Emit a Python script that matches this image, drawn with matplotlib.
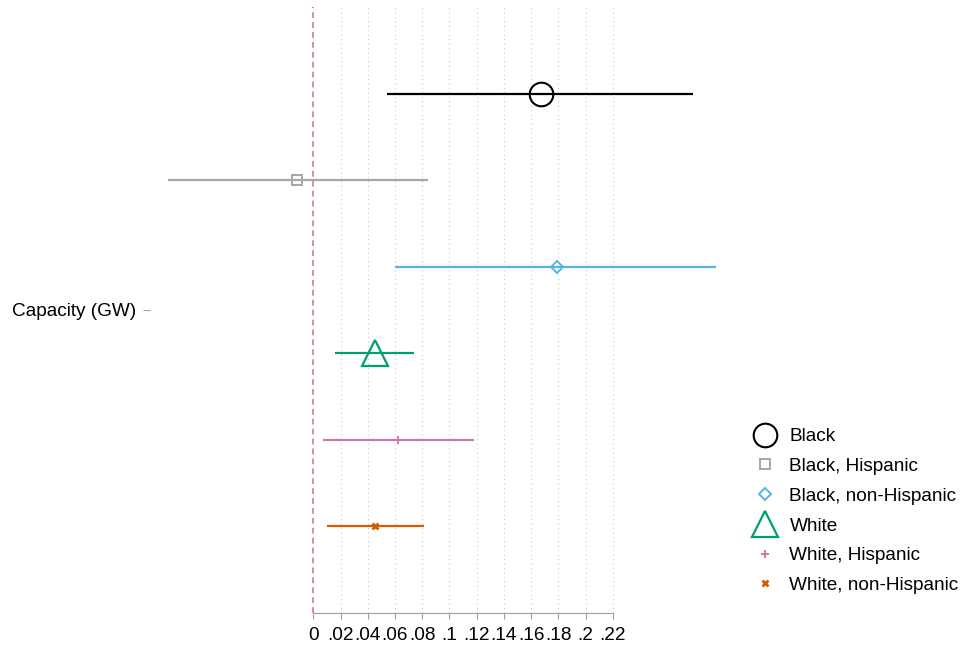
import matplotlib.pyplot as plt
from matplotlib.lines import Line2D

plt.rcParams['font.family'] = ['Liberation Sans', 'DejaVu Sans']

groups = ['Black', 'Black, Hispanic', 'Black, non-Hispanic',
          'White', 'White, Hispanic', 'White, non-Hispanic']
coef = [0.167, -0.012, 0.179, 0.045, 0.062, 0.045]
ci_lo = [0.054, -0.107, 0.060, 0.016, 0.007, 0.010]
ci_hi = [0.279, 0.084, 0.296, 0.074, 0.118, 0.081]
xticks = [0, .02, .04, .06, .08, .1, .12, .14, .16, .18, .2, .22]
xtick_labels = ['0', '.02', '.04', '.06', '.08', '.1', '.12', '.14', '.16', '.18', '.2', '.22']

colors = ['#000000', '#a6a6a6', '#56b4e9', '#009e73', '#cc79a7', '#d55e00']
markers = ['o', 's', 'D', '^', '+', 'x']
msizes = [17, 6.5, 6.3, 19, 6, 4.5]
mews = [1.5, 1.4, 1.4, 1.6, 1.4, 2.0]

fig = plt.figure(figsize=(9.61, 6.47), dpi=100)
ax = fig.add_axes([0.1561, 0.0526, 0.5948, 0.9366])

# one coefficient per group, stacked around the single y tick
offsets = [i - 2.5 for i in range(len(groups))]

for x in xticks[1:]:
    ax.axvline(x, color='#c8c8c8', lw=0.8, ls=(0, (1, 3)), zorder=0)
ax.axvline(0, color='#cc79a7', alpha=0.85, lw=1.4, ls=(0, (3.0, 2.1)), zorder=1)

for i, g in enumerate(groups):
    ax.errorbar(coef[i], offsets[i],
                xerr=[[coef[i] - ci_lo[i]], [ci_hi[i] - coef[i]]],
                fmt=markers[i], color=colors[i], ecolor=colors[i],
                elinewidth=1.6, capsize=0, ms=msizes[i], mfc='none',
                mec=colors[i], mew=mews[i], zorder=3)

ax.set_xlim(-0.12, 0.30)
ax.set_ylim(3.5, -3.5)
ax.set_xticks(xticks)
ax.set_xticklabels(xtick_labels, fontsize=13.7)
ax.set_yticks([0])
ax.set_yticklabels(['Capacity (GW)'], fontsize=13.7)

for s in ['top', 'right', 'left']:
    ax.spines[s].set_visible(False)
ax.spines['bottom'].set_bounds(0, 0.22)
ax.spines['bottom'].set_color('#a0a0a0')
ax.tick_params(axis='x', colors='#a0a0a0', labelcolor='black', length=4, pad=6)
ax.tick_params(axis='y', colors='#a0a0a0', labelcolor='black', length=5, pad=5)

handles = [Line2D([], [], ls='none', marker=markers[i], color=colors[i],
                  mfc='none', ms=msizes[i] if i in (0, 3) else msizes[i] * 1.05,
                  mew=mews[i]) for i in range(len(groups))]
fig.legend(handles, groups, loc='upper left', bbox_to_anchor=(0.772, 0.353),
           frameon=False, fontsize=13.7, handlelength=1.4, handletextpad=0.6,
           labelspacing=0.65, borderpad=0)

fig.savefig('out.png', dpi=100)
